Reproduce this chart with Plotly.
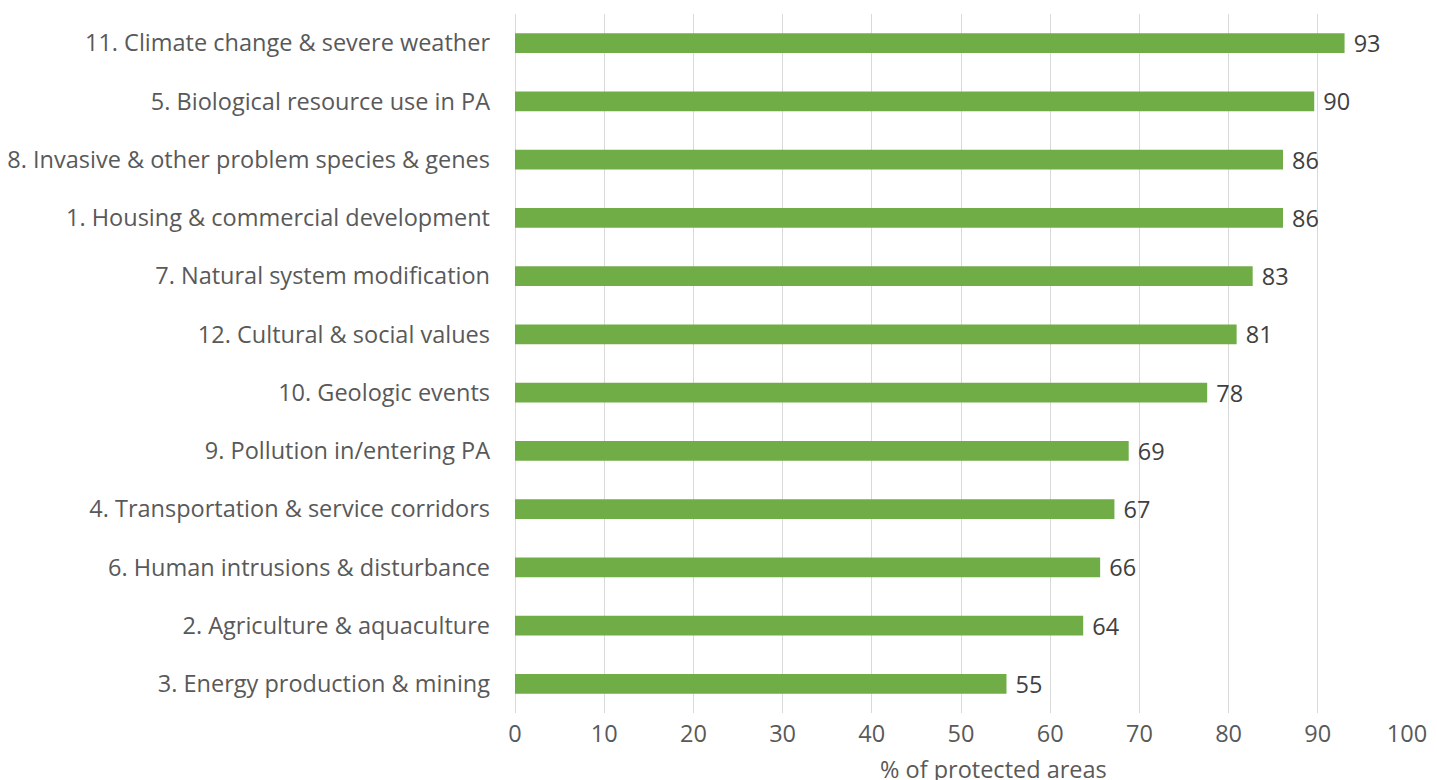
import plotly.graph_objects as go

categories = [
    "11. Climate change & severe weather",
    "5. Biological resource use in PA",
    "8. Invasive & other problem species & genes",
    "1. Housing & commercial development",
    "7. Natural system modification",
    "12. Cultural & social values",
    "10. Geologic events",
    "9. Pollution in/entering PA",
    "4. Transportation & service corridors",
    "6. Human intrusions & disturbance",
    "2. Agriculture & aquaculture",
    "3. Energy production & mining",
]
values = [93.0, 89.6, 86.1, 86.1, 82.7, 80.9, 77.6, 68.8, 67.2, 65.6, 63.7, 55.1]
x_ticks = [0, 10, 20, 30, 40, 50, 60, 70, 80, 90, 100]
axis_title = "% of protected areas"

FS = 23.5

fig = go.Figure(go.Bar(
    y=categories[::-1],
    x=values[::-1],
    orientation="h",
    marker=dict(color="#70AD47", line=dict(width=0)),
    width=0.34,
    text=[f" {v:.0f}" for v in values[::-1]],
    textposition="outside",
    constraintext="none",
    textfont=dict(family="Open Sans", size=FS, color="#404040"),
    cliponaxis=False,
    hoverinfo="skip",
))

fig.update_layout(
    template="none",
    width=1437, height=780,
    margin=dict(l=515, r=30, t=14, b=67, autoexpand=False),
    paper_bgcolor="white", plot_bgcolor="white",
    font=dict(family="Open Sans", size=FS, color="#595959"),
    showlegend=False,
    xaxis=dict(
        range=[0, 100], tickvals=x_ticks, showgrid=True, automargin=False,
        gridcolor="#D9D9D9", gridwidth=1, zeroline=True, zerolinecolor="#D9D9D9",
        zerolinewidth=1, showline=False, ticks="",
        tickfont=dict(size=FS, color="#595959"),
        ticklabelstandoff=4, fixedrange=True,
    ),
    yaxis=dict(
        showgrid=False, showline=False, ticks="", ticklabelstandoff=24,
        automargin=False, zeroline=False,
        tickfont=dict(size=FS, color="#595959"), fixedrange=True,
    ),
    annotations=[dict(
        text=axis_title, xref="paper", yref="paper", x=0.536, y=0,
        yshift=-56, xanchor="center", yanchor="middle", showarrow=False,
        font=dict(size=FS, color="#595959"),
    )],
)

fig.write_html(
    "out.html",
    config={"displayModeBar": False, "responsive": False},
    post_script="document.body.style.margin='0';document.body.style.overflow='hidden';",
)
